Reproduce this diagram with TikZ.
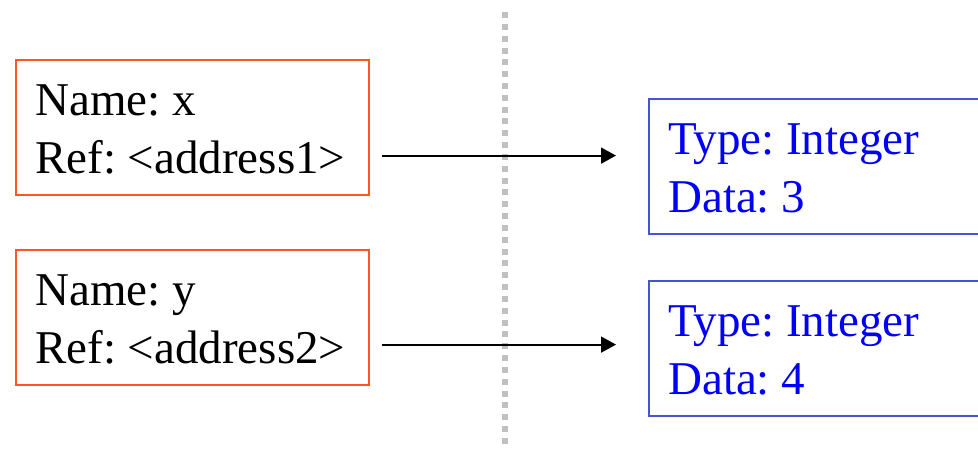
\documentclass[tikz,border=0pt]{standalone}
\usepackage{fontspec}
\setmainfont{Liberation Serif}
\usetikzlibrary{arrows.meta}
\definecolor{refedge}{RGB}{250,88,30}
\definecolor{objedge}{RGB}{72,82,212}
\definecolor{objtext}{RGB}{0,0,250}
\definecolor{divider}{RGB}{192,192,192}
\frenchspacing
\begin{document}
\begin{tikzpicture}[x=1pt,y=-1pt,
  label text/.style={font=\fontsize{47}{57.5}\selectfont, align=left,
    inner sep=0pt, anchor=west},
  refbox/.style={draw=refedge, line width=1.6pt, anchor=north west, inner sep=0pt,
    minimum width=353pt, minimum height=135pt},
  objbox/.style={draw=objedge, line width=1.6pt, anchor=north west, inner sep=0pt,
    minimum width=360pt, minimum height=135pt},
  ptr/.style={line width=1.8pt, -{Triangle[length=15pt,width=16pt]}},
  sep/.style={draw=divider, line width=6pt, dash pattern=on 6pt off 5.833pt}]
  \useasboundingbox (0,0) rectangle (978,450);
  \clip (0,0) rectangle (978,450);
  \fill[white] (0,0) rectangle (978,450);

  % divider between names and objects
  \coordinate (sepTop) at (505,12);
  \coordinate (sepBot) at (505,444);
  \draw[sep] (sepTop) -- (sepBot);

  % names
  \node[refbox] (x) at (15,59) {};
  \node[label text] (xt) at ([shift={(20,2)}]x.west) {Name: x\\Ref: <address1>};
  \node[refbox] (y) at (15,249) {};
  \node[label text] (yt) at ([shift={(20,2)}]y.west) {Name: y\\Ref: <address2>};

  % objects
  \node[objbox] (o1) at (648,98) {};
  \node[label text, text=objtext] (o1t) at ([shift={(20,2)}]o1.west) {Type: Integer\\Data: 3};
  \node[objbox] (o2) at (648,280) {};
  \node[label text, text=objtext] (o2t) at ([shift={(20,2)}]o2.west) {Type: Integer\\Data: 4};

  % references
  \draw[ptr] ([shift={(12,-40)}]x.south east) -- ([shift={(-32,-79)}]o1.south west);
  \draw[ptr] ([shift={(12,-41)}]y.south east) -- ([shift={(-32,-72)}]o2.south west);
\end{tikzpicture}
\end{document}
